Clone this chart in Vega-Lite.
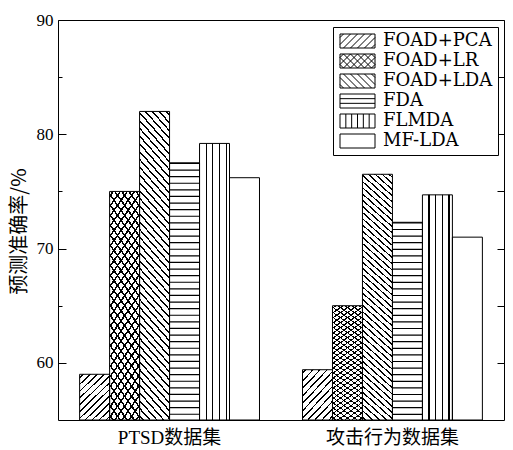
{
"$schema":"https://vega.github.io/schema/vega-lite/v6.json",
"width":446,"height":400,
"autosize":{"type":"none"},
"padding":{"left":58,"top":20,"right":9,"bottom":30},
"background":"white",
"config":{"view":{"stroke":"black","strokeWidth":1},"axis":{"grid":false,"domainColor":"black","tickColor":"black","labelColor":"black","titleColor":"black","tickWidth":1}},
"data":{"values":[
{"group":"PTSD数据集","method":"FOAD+PCA","value":59.0},
{"group":"PTSD数据集","method":"FOAD+LR","value":75.0},
{"group":"PTSD数据集","method":"FOAD+LDA","value":82.0},
{"group":"PTSD数据集","method":"FDA","value":77.5},
{"group":"PTSD数据集","method":"FLMDA","value":79.2},
{"group":"PTSD数据集","method":"MF-LDA","value":76.2},
{"group":"攻击行为数据集","method":"FOAD+PCA","value":59.4},
{"group":"攻击行为数据集","method":"FOAD+LR","value":65.0},
{"group":"攻击行为数据集","method":"FOAD+LDA","value":76.5},
{"group":"攻击行为数据集","method":"FDA","value":72.3},
{"group":"攻击行为数据集","method":"FLMDA","value":74.7},
{"group":"攻击行为数据集","method":"MF-LDA","value":71.0}
]},
"encoding":{
"x":{"field":"group","type":"nominal","scale":{"domain":["PTSD数据集","攻击行为数据集"],"paddingInner":0.193,"paddingOuter":0.097},"axis":{"title":null,"labelAngle":0,"ticks":false,"domain":false,"labelFont":"Liberation Serif, Noto Sans CJK SC","labelFontSize":19,"labelPadding":8}},
"xOffset":{"field":"method","type":"nominal","scale":{"domain":["FOAD+PCA","FOAD+LR","FOAD+LDA","FDA","FLMDA","MF-LDA"],"paddingInner":0,"paddingOuter":0}}
},
"layer":[
{"mark":{"type":"bar","strokeWidth":0},
 "encoding":{
  "y":{"field":"value","type":"quantitative","scale":{"domain":[55,90],"nice":false,"zero":false},"axis":{"orient":"left","values":[60,70,80,90],"tickSize":-8,"labelPadding":13,"domain":false,"labelFont":"Liberation Serif","labelFontSize":17,"title":"预测准确率/%","titleFont":"Noto Sans CJK SC","titleFontSize":20,"titleFontWeight":"normal","titlePadding":7,"titleY":211}},
  "y2":{"datum":55},
  "fill":{"field":"method","type":"nominal","scale":{"domain":["FOAD+PCA","FOAD+LR","FOAD+LDA","FDA","FLMDA","MF-LDA"],"range":["#ffffff","#ffffff","#ffffff","#ffffff","#ffffff","#ffffff"]},
   "legend":{"orient":"none","legendX":275,"legendY":7,"title":null,"direction":"vertical","padding":5,"strokeColor":"black","fillColor":"white","symbolSize":196,"symbolStrokeColor":"black","symbolStrokeWidth":1,"symbolOffset":0,"labelFont":"DejaVu Serif","labelFontSize":18,"labelColor":"black","labelOffset":27,"labelLimit":300,"rowPadding":2,
    "encode":{"symbols":{"update":{"shape":{"signal":"datum.value==='FOAD+PCA'?'M-1,-1H4V1H-1ZM-1,-0.5L-0.5,-1M-1,0.5L0.5,-1M-0.5,1L1.5,-1M0.5,1L2.5,-1M1.5,1L3.5,-1M2.5,1L4,-0.5M3.5,1L4,0.5':datum.value==='FOAD+LR'?'M-1,-1H4V1H-1ZM-1,-0.5L-0.5,-1M-1,0.5L0.5,-1M-0.5,1L1.5,-1M0.5,1L2.5,-1M1.5,1L3.5,-1M2.5,1L4,-0.5M3.5,1L4,0.5M-1,0.5L-0.5,1M-1,-0.5L0.5,1M-0.5,-1L1.5,1M0.5,-1L2.5,1M1.5,-1L3.5,1M2.5,-1L4,0.5M3.5,-1L4,-0.5':datum.value==='FOAD+LDA'?'M-1,-1H4V1H-1ZM-1,0.5L-0.5,1M-1,-0.5L0.5,1M-0.5,-1L1.5,1M0.5,-1L2.5,1M1.5,-1L3.5,1M2.5,-1L4,0.5M3.5,-1L4,-0.5':datum.value==='FDA'?'M-1,-1H4V1H-1ZM-1,-0.333H4M-1,0.333H4':datum.value==='FLMDA'?'M-1,-1H4V1H-1ZM-0.167,-1V1M0.667,-1V1M1.5,-1V1M2.333,-1V1M3.167,-1V1':'M-1,-1H4V1H-1Z'"},"stroke":{"value":"black"},"strokeWidth":{"value":1},"fill":{"value":"white"}}}}}}
 }
},
{"transform":[{"filter":"datum.method==='FOAD+PCA'"}],
 "mark":{"type":"bar","strokeWidth":0,"fill":{"gradient":"linear","x1":0,"y1":0,"x2":0.738,"y2":1.166,"stops":[
{"offset":0.0345,"color":"#fff"},{"offset":0.0345,"color":"#000"},{"offset":0.0565,"color":"#000"},{"offset":0.0565,"color":"#fff"},
{"offset":0.1254,"color":"#fff"},{"offset":0.1254,"color":"#000"},{"offset":0.1474,"color":"#000"},{"offset":0.1474,"color":"#fff"},
{"offset":0.2163,"color":"#fff"},{"offset":0.2163,"color":"#000"},{"offset":0.2383,"color":"#000"},{"offset":0.2383,"color":"#fff"},
{"offset":0.3072,"color":"#fff"},{"offset":0.3072,"color":"#000"},{"offset":0.3292,"color":"#000"},{"offset":0.3292,"color":"#fff"},
{"offset":0.3981,"color":"#fff"},{"offset":0.3981,"color":"#000"},{"offset":0.4201,"color":"#000"},{"offset":0.4201,"color":"#fff"},
{"offset":0.489,"color":"#fff"},{"offset":0.489,"color":"#000"},{"offset":0.511,"color":"#000"},{"offset":0.511,"color":"#fff"},
{"offset":0.5799,"color":"#fff"},{"offset":0.5799,"color":"#000"},{"offset":0.6019,"color":"#000"},{"offset":0.6019,"color":"#fff"},
{"offset":0.6708,"color":"#fff"},{"offset":0.6708,"color":"#000"},{"offset":0.6928,"color":"#000"},{"offset":0.6928,"color":"#fff"},
{"offset":0.7617,"color":"#fff"},{"offset":0.7617,"color":"#000"},{"offset":0.7837,"color":"#000"},{"offset":0.7837,"color":"#fff"},
{"offset":0.8526,"color":"#fff"},{"offset":0.8526,"color":"#000"},{"offset":0.8746,"color":"#000"},{"offset":0.8746,"color":"#fff"},
{"offset":0.9435,"color":"#fff"},{"offset":0.9435,"color":"#000"},{"offset":0.9655,"color":"#000"},{"offset":0.9655,"color":"#fff"}
 ]}},
 "encoding":{
  "y":{"field":"value","type":"quantitative","scale":{"domain":[55,90],"nice":false,"zero":false},"axis":{"orient":"left","values":[65,75,85],"labels":false,"tickSize":-4,"domain":false,"title":null}},
  "y2":{"datum":55}
 }
},
{"transform":[{"filter":"datum.method==='FOAD+LR'"}],
 "mark":{"type":"bar","strokeWidth":0,"fill":{"gradient":"linear","x1":0,"y1":0,"x2":0.2135,"y2":1.1464,"stops":[
{"offset":0.0137,"color":"#fff"},{"offset":0.0137,"color":"#000"},{"offset":0.0233,"color":"#000"},{"offset":0.0233,"color":"#fff"},
{"offset":0.0508,"color":"#fff"},{"offset":0.0508,"color":"#000"},{"offset":0.0604,"color":"#000"},{"offset":0.0604,"color":"#fff"},
{"offset":0.0878,"color":"#fff"},{"offset":0.0878,"color":"#000"},{"offset":0.0974,"color":"#000"},{"offset":0.0974,"color":"#fff"},
{"offset":0.1248,"color":"#fff"},{"offset":0.1248,"color":"#000"},{"offset":0.1344,"color":"#000"},{"offset":0.1344,"color":"#fff"},
{"offset":0.1619,"color":"#fff"},{"offset":0.1619,"color":"#000"},{"offset":0.1715,"color":"#000"},{"offset":0.1715,"color":"#fff"},
{"offset":0.1989,"color":"#fff"},{"offset":0.1989,"color":"#000"},{"offset":0.2085,"color":"#000"},{"offset":0.2085,"color":"#fff"},
{"offset":0.2359,"color":"#fff"},{"offset":0.2359,"color":"#000"},{"offset":0.2455,"color":"#000"},{"offset":0.2455,"color":"#fff"},
{"offset":0.273,"color":"#fff"},{"offset":0.273,"color":"#000"},{"offset":0.2826,"color":"#000"},{"offset":0.2826,"color":"#fff"},
{"offset":0.31,"color":"#fff"},{"offset":0.31,"color":"#000"},{"offset":0.3196,"color":"#000"},{"offset":0.3196,"color":"#fff"},
{"offset":0.3471,"color":"#fff"},{"offset":0.3471,"color":"#000"},{"offset":0.3567,"color":"#000"},{"offset":0.3567,"color":"#fff"},
{"offset":0.3841,"color":"#fff"},{"offset":0.3841,"color":"#000"},{"offset":0.3937,"color":"#000"},{"offset":0.3937,"color":"#fff"},
{"offset":0.4211,"color":"#fff"},{"offset":0.4211,"color":"#000"},{"offset":0.4307,"color":"#000"},{"offset":0.4307,"color":"#fff"},
{"offset":0.4582,"color":"#fff"},{"offset":0.4582,"color":"#000"},{"offset":0.4678,"color":"#000"},{"offset":0.4678,"color":"#fff"},
{"offset":0.4952,"color":"#fff"},{"offset":0.4952,"color":"#000"},{"offset":0.5048,"color":"#000"},{"offset":0.5048,"color":"#fff"},
{"offset":0.5322,"color":"#fff"},{"offset":0.5322,"color":"#000"},{"offset":0.5418,"color":"#000"},{"offset":0.5418,"color":"#fff"},
{"offset":0.5693,"color":"#fff"},{"offset":0.5693,"color":"#000"},{"offset":0.5789,"color":"#000"},{"offset":0.5789,"color":"#fff"},
{"offset":0.6063,"color":"#fff"},{"offset":0.6063,"color":"#000"},{"offset":0.6159,"color":"#000"},{"offset":0.6159,"color":"#fff"},
{"offset":0.6433,"color":"#fff"},{"offset":0.6433,"color":"#000"},{"offset":0.6529,"color":"#000"},{"offset":0.6529,"color":"#fff"},
{"offset":0.6804,"color":"#fff"},{"offset":0.6804,"color":"#000"},{"offset":0.69,"color":"#000"},{"offset":0.69,"color":"#fff"},
{"offset":0.7174,"color":"#fff"},{"offset":0.7174,"color":"#000"},{"offset":0.727,"color":"#000"},{"offset":0.727,"color":"#fff"},
{"offset":0.7545,"color":"#fff"},{"offset":0.7545,"color":"#000"},{"offset":0.7641,"color":"#000"},{"offset":0.7641,"color":"#fff"},
{"offset":0.7915,"color":"#fff"},{"offset":0.7915,"color":"#000"},{"offset":0.8011,"color":"#000"},{"offset":0.8011,"color":"#fff"},
{"offset":0.8285,"color":"#fff"},{"offset":0.8285,"color":"#000"},{"offset":0.8381,"color":"#000"},{"offset":0.8381,"color":"#fff"},
{"offset":0.8656,"color":"#fff"},{"offset":0.8656,"color":"#000"},{"offset":0.8752,"color":"#000"},{"offset":0.8752,"color":"#fff"},
{"offset":0.9026,"color":"#fff"},{"offset":0.9026,"color":"#000"},{"offset":0.9122,"color":"#000"},{"offset":0.9122,"color":"#fff"},
{"offset":0.9396,"color":"#fff"},{"offset":0.9396,"color":"#000"},{"offset":0.9492,"color":"#000"},{"offset":0.9492,"color":"#fff"},
{"offset":0.9767,"color":"#fff"},{"offset":0.9767,"color":"#000"},{"offset":0.9863,"color":"#000"},{"offset":0.9863,"color":"#fff"}
 ]}},
 "encoding":{
  "y":{"field":"value","type":"quantitative","scale":{"domain":[55,90],"nice":false,"zero":false},"axis":null},
  "y2":{"datum":55}
 }
},
{"transform":[{"filter":"datum.method==='FOAD+LR'"}],
 "mark":{"type":"bar","strokeWidth":0,"fill":{"gradient":"linear","x1":0,"y1":1,"x2":0.2135,"y2":-0.1464,"stops":[
{"offset":0.0137,"color":"rgba(0,0,0,0)"},{"offset":0.0137,"color":"#000"},{"offset":0.0233,"color":"#000"},{"offset":0.0233,"color":"rgba(0,0,0,0)"},
{"offset":0.0508,"color":"rgba(0,0,0,0)"},{"offset":0.0508,"color":"#000"},{"offset":0.0604,"color":"#000"},{"offset":0.0604,"color":"rgba(0,0,0,0)"},
{"offset":0.0878,"color":"rgba(0,0,0,0)"},{"offset":0.0878,"color":"#000"},{"offset":0.0974,"color":"#000"},{"offset":0.0974,"color":"rgba(0,0,0,0)"},
{"offset":0.1248,"color":"rgba(0,0,0,0)"},{"offset":0.1248,"color":"#000"},{"offset":0.1344,"color":"#000"},{"offset":0.1344,"color":"rgba(0,0,0,0)"},
{"offset":0.1619,"color":"rgba(0,0,0,0)"},{"offset":0.1619,"color":"#000"},{"offset":0.1715,"color":"#000"},{"offset":0.1715,"color":"rgba(0,0,0,0)"},
{"offset":0.1989,"color":"rgba(0,0,0,0)"},{"offset":0.1989,"color":"#000"},{"offset":0.2085,"color":"#000"},{"offset":0.2085,"color":"rgba(0,0,0,0)"},
{"offset":0.2359,"color":"rgba(0,0,0,0)"},{"offset":0.2359,"color":"#000"},{"offset":0.2455,"color":"#000"},{"offset":0.2455,"color":"rgba(0,0,0,0)"},
{"offset":0.273,"color":"rgba(0,0,0,0)"},{"offset":0.273,"color":"#000"},{"offset":0.2826,"color":"#000"},{"offset":0.2826,"color":"rgba(0,0,0,0)"},
{"offset":0.31,"color":"rgba(0,0,0,0)"},{"offset":0.31,"color":"#000"},{"offset":0.3196,"color":"#000"},{"offset":0.3196,"color":"rgba(0,0,0,0)"},
{"offset":0.3471,"color":"rgba(0,0,0,0)"},{"offset":0.3471,"color":"#000"},{"offset":0.3567,"color":"#000"},{"offset":0.3567,"color":"rgba(0,0,0,0)"},
{"offset":0.3841,"color":"rgba(0,0,0,0)"},{"offset":0.3841,"color":"#000"},{"offset":0.3937,"color":"#000"},{"offset":0.3937,"color":"rgba(0,0,0,0)"},
{"offset":0.4211,"color":"rgba(0,0,0,0)"},{"offset":0.4211,"color":"#000"},{"offset":0.4307,"color":"#000"},{"offset":0.4307,"color":"rgba(0,0,0,0)"},
{"offset":0.4582,"color":"rgba(0,0,0,0)"},{"offset":0.4582,"color":"#000"},{"offset":0.4678,"color":"#000"},{"offset":0.4678,"color":"rgba(0,0,0,0)"},
{"offset":0.4952,"color":"rgba(0,0,0,0)"},{"offset":0.4952,"color":"#000"},{"offset":0.5048,"color":"#000"},{"offset":0.5048,"color":"rgba(0,0,0,0)"},
{"offset":0.5322,"color":"rgba(0,0,0,0)"},{"offset":0.5322,"color":"#000"},{"offset":0.5418,"color":"#000"},{"offset":0.5418,"color":"rgba(0,0,0,0)"},
{"offset":0.5693,"color":"rgba(0,0,0,0)"},{"offset":0.5693,"color":"#000"},{"offset":0.5789,"color":"#000"},{"offset":0.5789,"color":"rgba(0,0,0,0)"},
{"offset":0.6063,"color":"rgba(0,0,0,0)"},{"offset":0.6063,"color":"#000"},{"offset":0.6159,"color":"#000"},{"offset":0.6159,"color":"rgba(0,0,0,0)"},
{"offset":0.6433,"color":"rgba(0,0,0,0)"},{"offset":0.6433,"color":"#000"},{"offset":0.6529,"color":"#000"},{"offset":0.6529,"color":"rgba(0,0,0,0)"},
{"offset":0.6804,"color":"rgba(0,0,0,0)"},{"offset":0.6804,"color":"#000"},{"offset":0.69,"color":"#000"},{"offset":0.69,"color":"rgba(0,0,0,0)"},
{"offset":0.7174,"color":"rgba(0,0,0,0)"},{"offset":0.7174,"color":"#000"},{"offset":0.727,"color":"#000"},{"offset":0.727,"color":"rgba(0,0,0,0)"},
{"offset":0.7545,"color":"rgba(0,0,0,0)"},{"offset":0.7545,"color":"#000"},{"offset":0.7641,"color":"#000"},{"offset":0.7641,"color":"rgba(0,0,0,0)"},
{"offset":0.7915,"color":"rgba(0,0,0,0)"},{"offset":0.7915,"color":"#000"},{"offset":0.8011,"color":"#000"},{"offset":0.8011,"color":"rgba(0,0,0,0)"},
{"offset":0.8285,"color":"rgba(0,0,0,0)"},{"offset":0.8285,"color":"#000"},{"offset":0.8381,"color":"#000"},{"offset":0.8381,"color":"rgba(0,0,0,0)"},
{"offset":0.8656,"color":"rgba(0,0,0,0)"},{"offset":0.8656,"color":"#000"},{"offset":0.8752,"color":"#000"},{"offset":0.8752,"color":"rgba(0,0,0,0)"},
{"offset":0.9026,"color":"rgba(0,0,0,0)"},{"offset":0.9026,"color":"#000"},{"offset":0.9122,"color":"#000"},{"offset":0.9122,"color":"rgba(0,0,0,0)"},
{"offset":0.9396,"color":"rgba(0,0,0,0)"},{"offset":0.9396,"color":"#000"},{"offset":0.9492,"color":"#000"},{"offset":0.9492,"color":"rgba(0,0,0,0)"},
{"offset":0.9767,"color":"rgba(0,0,0,0)"},{"offset":0.9767,"color":"#000"},{"offset":0.9863,"color":"#000"},{"offset":0.9863,"color":"rgba(0,0,0,0)"}
 ]}},
 "encoding":{
  "y":{"field":"value","type":"quantitative","scale":{"domain":[55,90],"nice":false,"zero":false},"axis":null},
  "y2":{"datum":55}
 }
},
{"transform":[{"filter":"datum.method==='FOAD+LDA'"}],
 "mark":{"type":"bar","strokeWidth":0,"fill":{"gradient":"linear","x1":0,"y1":1,"x2":0.1197,"y2":-0.0962,"stops":[
{"offset":0.0084,"color":"#fff"},{"offset":0.0084,"color":"#000"},{"offset":0.0144,"color":"#000"},{"offset":0.0144,"color":"#fff"},
{"offset":0.0311,"color":"#fff"},{"offset":0.0311,"color":"#000"},{"offset":0.0371,"color":"#000"},{"offset":0.0371,"color":"#fff"},
{"offset":0.0538,"color":"#fff"},{"offset":0.0538,"color":"#000"},{"offset":0.0598,"color":"#000"},{"offset":0.0598,"color":"#fff"},
{"offset":0.0765,"color":"#fff"},{"offset":0.0765,"color":"#000"},{"offset":0.0825,"color":"#000"},{"offset":0.0825,"color":"#fff"},
{"offset":0.0993,"color":"#fff"},{"offset":0.0993,"color":"#000"},{"offset":0.1053,"color":"#000"},{"offset":0.1053,"color":"#fff"},
{"offset":0.122,"color":"#fff"},{"offset":0.122,"color":"#000"},{"offset":0.128,"color":"#000"},{"offset":0.128,"color":"#fff"},
{"offset":0.1447,"color":"#fff"},{"offset":0.1447,"color":"#000"},{"offset":0.1507,"color":"#000"},{"offset":0.1507,"color":"#fff"},
{"offset":0.1675,"color":"#fff"},{"offset":0.1675,"color":"#000"},{"offset":0.1735,"color":"#000"},{"offset":0.1735,"color":"#fff"},
{"offset":0.1902,"color":"#fff"},{"offset":0.1902,"color":"#000"},{"offset":0.1962,"color":"#000"},{"offset":0.1962,"color":"#fff"},
{"offset":0.2129,"color":"#fff"},{"offset":0.2129,"color":"#000"},{"offset":0.2189,"color":"#000"},{"offset":0.2189,"color":"#fff"},
{"offset":0.2356,"color":"#fff"},{"offset":0.2356,"color":"#000"},{"offset":0.2416,"color":"#000"},{"offset":0.2416,"color":"#fff"},
{"offset":0.2584,"color":"#fff"},{"offset":0.2584,"color":"#000"},{"offset":0.2644,"color":"#000"},{"offset":0.2644,"color":"#fff"},
{"offset":0.2811,"color":"#fff"},{"offset":0.2811,"color":"#000"},{"offset":0.2871,"color":"#000"},{"offset":0.2871,"color":"#fff"},
{"offset":0.3038,"color":"#fff"},{"offset":0.3038,"color":"#000"},{"offset":0.3098,"color":"#000"},{"offset":0.3098,"color":"#fff"},
{"offset":0.3265,"color":"#fff"},{"offset":0.3265,"color":"#000"},{"offset":0.3325,"color":"#000"},{"offset":0.3325,"color":"#fff"},
{"offset":0.3493,"color":"#fff"},{"offset":0.3493,"color":"#000"},{"offset":0.3553,"color":"#000"},{"offset":0.3553,"color":"#fff"},
{"offset":0.372,"color":"#fff"},{"offset":0.372,"color":"#000"},{"offset":0.378,"color":"#000"},{"offset":0.378,"color":"#fff"},
{"offset":0.3947,"color":"#fff"},{"offset":0.3947,"color":"#000"},{"offset":0.4007,"color":"#000"},{"offset":0.4007,"color":"#fff"},
{"offset":0.4175,"color":"#fff"},{"offset":0.4175,"color":"#000"},{"offset":0.4235,"color":"#000"},{"offset":0.4235,"color":"#fff"},
{"offset":0.4402,"color":"#fff"},{"offset":0.4402,"color":"#000"},{"offset":0.4462,"color":"#000"},{"offset":0.4462,"color":"#fff"},
{"offset":0.4629,"color":"#fff"},{"offset":0.4629,"color":"#000"},{"offset":0.4689,"color":"#000"},{"offset":0.4689,"color":"#fff"},
{"offset":0.4856,"color":"#fff"},{"offset":0.4856,"color":"#000"},{"offset":0.4916,"color":"#000"},{"offset":0.4916,"color":"#fff"},
{"offset":0.5084,"color":"#fff"},{"offset":0.5084,"color":"#000"},{"offset":0.5144,"color":"#000"},{"offset":0.5144,"color":"#fff"},
{"offset":0.5311,"color":"#fff"},{"offset":0.5311,"color":"#000"},{"offset":0.5371,"color":"#000"},{"offset":0.5371,"color":"#fff"},
{"offset":0.5538,"color":"#fff"},{"offset":0.5538,"color":"#000"},{"offset":0.5598,"color":"#000"},{"offset":0.5598,"color":"#fff"},
{"offset":0.5765,"color":"#fff"},{"offset":0.5765,"color":"#000"},{"offset":0.5825,"color":"#000"},{"offset":0.5825,"color":"#fff"},
{"offset":0.5993,"color":"#fff"},{"offset":0.5993,"color":"#000"},{"offset":0.6053,"color":"#000"},{"offset":0.6053,"color":"#fff"},
{"offset":0.622,"color":"#fff"},{"offset":0.622,"color":"#000"},{"offset":0.628,"color":"#000"},{"offset":0.628,"color":"#fff"},
{"offset":0.6447,"color":"#fff"},{"offset":0.6447,"color":"#000"},{"offset":0.6507,"color":"#000"},{"offset":0.6507,"color":"#fff"},
{"offset":0.6675,"color":"#fff"},{"offset":0.6675,"color":"#000"},{"offset":0.6735,"color":"#000"},{"offset":0.6735,"color":"#fff"},
{"offset":0.6902,"color":"#fff"},{"offset":0.6902,"color":"#000"},{"offset":0.6962,"color":"#000"},{"offset":0.6962,"color":"#fff"},
{"offset":0.7129,"color":"#fff"},{"offset":0.7129,"color":"#000"},{"offset":0.7189,"color":"#000"},{"offset":0.7189,"color":"#fff"},
{"offset":0.7356,"color":"#fff"},{"offset":0.7356,"color":"#000"},{"offset":0.7416,"color":"#000"},{"offset":0.7416,"color":"#fff"},
{"offset":0.7584,"color":"#fff"},{"offset":0.7584,"color":"#000"},{"offset":0.7644,"color":"#000"},{"offset":0.7644,"color":"#fff"},
{"offset":0.7811,"color":"#fff"},{"offset":0.7811,"color":"#000"},{"offset":0.7871,"color":"#000"},{"offset":0.7871,"color":"#fff"},
{"offset":0.8038,"color":"#fff"},{"offset":0.8038,"color":"#000"},{"offset":0.8098,"color":"#000"},{"offset":0.8098,"color":"#fff"},
{"offset":0.8265,"color":"#fff"},{"offset":0.8265,"color":"#000"},{"offset":0.8325,"color":"#000"},{"offset":0.8325,"color":"#fff"},
{"offset":0.8493,"color":"#fff"},{"offset":0.8493,"color":"#000"},{"offset":0.8553,"color":"#000"},{"offset":0.8553,"color":"#fff"},
{"offset":0.872,"color":"#fff"},{"offset":0.872,"color":"#000"},{"offset":0.878,"color":"#000"},{"offset":0.878,"color":"#fff"},
{"offset":0.8947,"color":"#fff"},{"offset":0.8947,"color":"#000"},{"offset":0.9007,"color":"#000"},{"offset":0.9007,"color":"#fff"},
{"offset":0.9175,"color":"#fff"},{"offset":0.9175,"color":"#000"},{"offset":0.9235,"color":"#000"},{"offset":0.9235,"color":"#fff"},
{"offset":0.9402,"color":"#fff"},{"offset":0.9402,"color":"#000"},{"offset":0.9462,"color":"#000"},{"offset":0.9462,"color":"#fff"},
{"offset":0.9629,"color":"#fff"},{"offset":0.9629,"color":"#000"},{"offset":0.9689,"color":"#000"},{"offset":0.9689,"color":"#fff"},
{"offset":0.9856,"color":"#fff"},{"offset":0.9856,"color":"#000"},{"offset":0.9916,"color":"#000"},{"offset":0.9916,"color":"#fff"}
 ]}},
 "encoding":{
  "y":{"field":"value","type":"quantitative","scale":{"domain":[55,90],"nice":false,"zero":false},"axis":{"orient":"right","values":[60,65,70,75,80,85,90],"labels":false,"tickSize":-7,"domain":false,"title":null}},
  "y2":{"datum":55}
 }
},
{"transform":[{"filter":"datum.method==='FDA'"}],
 "mark":{"type":"rule","strokeWidth":30,"strokeDash":[1.2,5.4],"strokeCap":"butt","color":"black"},
 "encoding":{
  "y":{"field":"value","type":"quantitative","scale":{"domain":[55,90],"nice":false,"zero":false},"axis":null},
  "y2":{"datum":55}
 }
},
{"transform":[{"filter":"datum.method==='FLMDA'"}],
 "mark":{"type":"bar","strokeWidth":0,"fill":{"gradient":"linear","x1":0,"y1":0,"x2":1,"y2":0,"stops":[
{"offset":0.202,"color":"#fff"},{"offset":0.202,"color":"#000"},{"offset":0.242,"color":"#000"},{"offset":0.242,"color":"#fff"},
{"offset":0.424,"color":"#fff"},{"offset":0.424,"color":"#000"},{"offset":0.464,"color":"#000"},{"offset":0.464,"color":"#fff"},
{"offset":0.647,"color":"#fff"},{"offset":0.647,"color":"#000"},{"offset":0.687,"color":"#000"},{"offset":0.687,"color":"#fff"},
{"offset":0.869,"color":"#fff"},{"offset":0.869,"color":"#000"},{"offset":0.909,"color":"#000"},{"offset":0.909,"color":"#fff"}
 ]}},
 "encoding":{
  "y":{"field":"value","type":"quantitative","scale":{"domain":[55,90],"nice":false,"zero":false},"axis":null},
  "y2":{"datum":55}
 }
},
{"mark":{"type":"bar","filled":false,"stroke":"black","strokeWidth":1},
 "encoding":{
  "y":{"field":"value","type":"quantitative","scale":{"domain":[55,90],"nice":false,"zero":false},"axis":null},
  "y2":{"datum":55}
 }
}
],
"resolve":{"axis":{"y":"independent"}}
}
